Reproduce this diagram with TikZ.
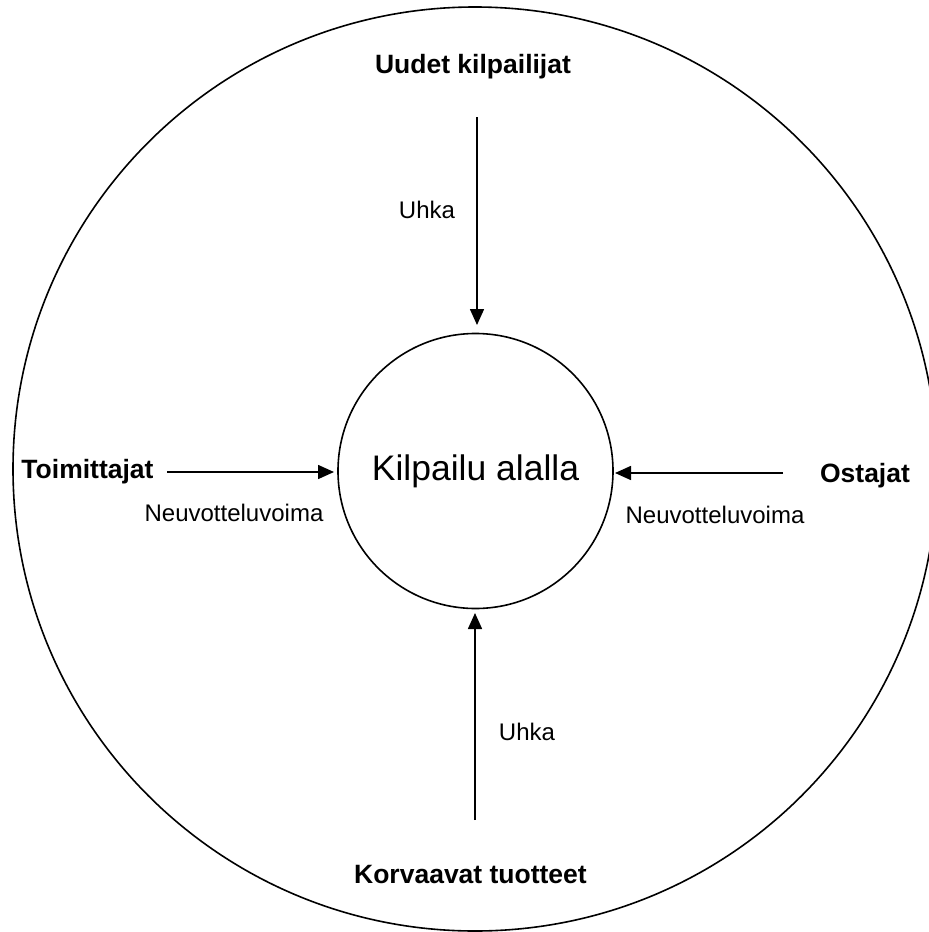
\documentclass[tikz,border=0pt]{standalone}
\usepackage{fontspec}
\setmainfont{Liberation Sans}
\usetikzlibrary{arrows.meta}
\begin{document}
\begin{tikzpicture}[x=1pt,y=-1pt,
  force/.style={font=\fontsize{26.5}{29}\selectfont\bfseries, anchor=base},
  lbl/.style={font=\fontsize{24}{27}\selectfont, anchor=base},
  arr/.style={line width=1.6pt, -{Triangle[length=16pt,width=14pt]}},
  ring/.style={draw, line width=1.6pt, circle, inner sep=0pt}]
\useasboundingbox (0,0) rectangle (929,932);
\begin{scope}
\clip (0,0) rectangle (929,932);
\node[ring, minimum size=924pt] (outer) at (475,469) {};
\end{scope}
\node[ring, minimum size=275pt, font=\fontsize{35.5}{40}\selectfont] (inner) at (475.5,471) {Kilpailu alalla};
% force labels
\node[force] (uudet) at (473,73) {Uudet kilpailijat};
\node[force] (toim) at (87.5,478) {Toimittajat};
\node[force] (ost) at (865,482) {Ostajat};
\node[force] (korv) at (470.5,883) {Korvaavat tuotteet};
% arrow ends
\coordinate (tS) at (477,117);
\coordinate (tE) at (477,325);
\coordinate (lS) at (167,472);
\coordinate (lE) at (334,472);
\coordinate (rS) at (783,473);
\coordinate (rE) at (615,473);
\coordinate (bS) at (475,820);
\coordinate (bE) at (475,613);
\draw[arr] (tS) -- (tE);
\draw[arr] (lS) -- (lE);
\draw[arr] (rS) -- (rE);
\draw[arr] (bS) -- (bE);
% arrow labels
\node[lbl] (u1) at (427,218) {Uhka};
\node[lbl] (u2) at (527,740) {Uhka};
\node[lbl] (n1) at (234,521) {Neuvotteluvoima};
\node[lbl] (n2) at (715,523) {Neuvotteluvoima};
\end{tikzpicture}
\end{document}
